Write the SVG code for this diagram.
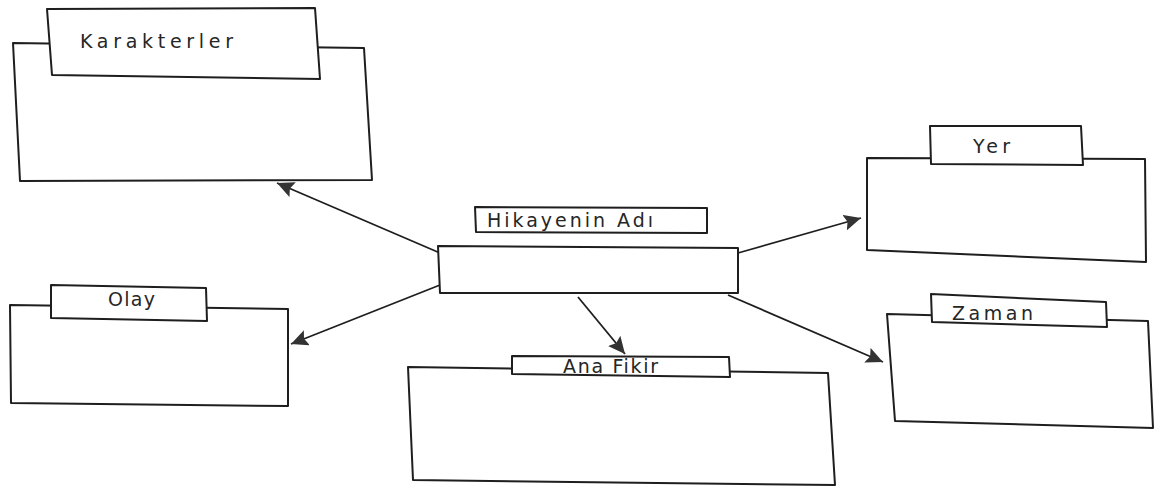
<svg xmlns="http://www.w3.org/2000/svg" width="1154" height="488" viewBox="0 0 1154 488">
  <style>
    .box { fill: #ffffff; stroke: #1e1e1e; stroke-width: 2; stroke-linejoin: round; }
    .tab { fill: #ffffff; stroke: #1e1e1e; stroke-width: 2; stroke-linejoin: round; }
    .lbl { font-family: "DejaVu Sans", "Liberation Sans", sans-serif; font-size: 19px; fill: #262626; }
    .edge { fill: none; stroke: #1e1e1e; stroke-width: 1.8; }
  </style>
  <defs>
    <marker id="head" markerUnits="userSpaceOnUse" markerWidth="20" markerHeight="16" refX="17" refY="8" orient="auto">
      <path d="M0,0 L17,8 L0,16 L3,8 Z" fill="#333333"/>
    </marker>
  </defs>

  <rect width="1154" height="488" fill="#ffffff"/>

  <!-- connectors from the title box to each topic box -->
  <g id="connectors">
    <line class="edge" x1="440" y1="253" x2="277" y2="183" marker-end="url(#head)"/>
    <line class="edge" x1="440" y1="285" x2="291" y2="344" marker-end="url(#head)"/>
    <line class="edge" x1="738" y1="253" x2="861" y2="218" marker-end="url(#head)"/>
    <line class="edge" x1="728" y1="295" x2="883" y2="362" marker-end="url(#head)"/>
    <line class="edge" x1="578" y1="297" x2="625" y2="354" marker-end="url(#head)"/>
  </g>

  <!-- central title -->
  <g id="title">
    <polygon class="tab" points="475,207 707,208 707,233 476,232"/>
    <text class="lbl" x="487" y="227" font-size="17" textLength="166" lengthAdjust="spacing">Hikayenin    Adı</text>
    <polygon class="box" points="438,246 738,248 738,293 440,293"/>
  </g>

  <!-- Karakterler -->
  <g id="karakterler">
    <polygon class="box" points="13,43 364,48 372,180 20,181"/>
    <polygon class="tab" points="47,9 315,8 320,79 52,75"/>
    <text class="lbl" x="80" y="48" textLength="153" lengthAdjust="spacing">Karakterler</text>
  </g>

  <!-- Olay -->
  <g id="olay">
    <polygon class="box" points="10,305 288,309 288,406 11,403"/>
    <polygon class="tab" points="51,285 206,288 207,321 51,318"/>
    <text class="lbl" x="108" y="306" textLength="47" lengthAdjust="spacing">Olay</text>
  </g>

  <!-- Ana Fikir -->
  <g id="ana-fikir">
    <polygon class="box" points="408,367 828,373 835,485 413,480"/>
    <polygon class="tab" points="512,356 729,357 730,377 512,374"/>
    <text class="lbl" x="563" y="373" font-size="17" textLength="95" lengthAdjust="spacing">Ana Fikir</text>
  </g>

  <!-- Yer -->
  <g id="yer">
    <polygon class="box" points="867,158 1145,159 1146,262 867,250"/>
    <polygon class="tab" points="930,126 1081,126 1083,165 931,164"/>
    <text class="lbl" x="973" y="153" textLength="37" lengthAdjust="spacing">Yer</text>
  </g>

  <!-- Zaman -->
  <g id="zaman">
    <polygon class="box" points="887,314 1148,321 1153,428 895,421"/>
    <polygon class="tab" points="931,294 1106,302 1107,327 932,322"/>
    <text class="lbl" x="952" y="320" textLength="81" lengthAdjust="spacing">Zaman</text>
  </g>
</svg>
